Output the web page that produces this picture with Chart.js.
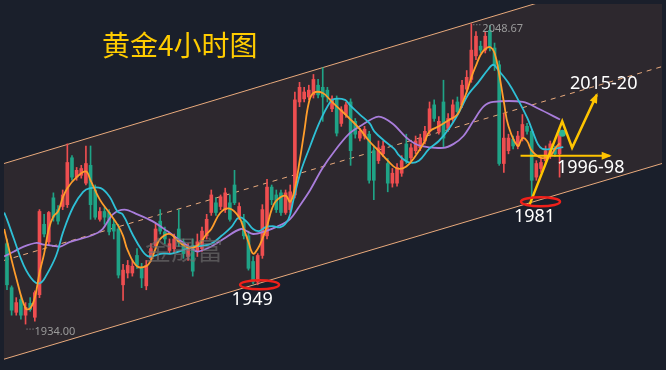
<!DOCTYPE html>
<html>
<head>
<meta charset="utf-8">
<script src="https://cdn.jsdelivr.net/npm/chart.js@4.4.1/dist/chart.umd.min.js"></script>
<style>
    html, body { margin: 0; padding: 0; background: #1a1f2b; }
    canvas { display: block; }
</style>
</head>
<body>
<canvas id="goldChart" width="666" height="370"></canvas>
<script>
// 4h candles (index 0 = leftmost bar)
const opens = [
    1964.7, 1947.9, 1938.5, 1943.4, 1937.4, 1941.9, 1936.6, 1945.2, 1972.1, 1965.4,
    1982.2, 1977.7, 1978.9, 1979.6, 1997.5, 1990.1, 1990.8, 1987.8, 1994.6, 1985.2,
    1974.0, 1977.0, 1976.6, 1972.1, 1970.3, 1949.0, 1953.5, 1953.5, 1960.2, 1955.3,
    1948.6, 1959.1, 1963.9, 1973.3, 1969.2, 1962.1, 1962.8, 1970.3, 1965.4, 1959.8,
    1963.9, 1961.7, 1962.8, 1967.7, 1976.6, 1980.3, 1978.9, 1977.7, 1980.3, 1987.1,
    1975.1, 1973.3, 1967.7, 1957.9, 1950.1, 1960.2, 1967.7, 1986.3, 1983.3, 1984.1,
    1976.6, 1977.7, 1983.3, 2018.8, 2020.0, 2020.7, 2021.5, 2025.2, 2024.4, 2023.3,
    2016.2, 2020.0, 2010.6, 2014.0, 2018.8, 2011.4, 2005.0, 2005.8, 2006.5, 2000.2,
    1996.4, 1999.0, 1995.3, 1987.8, 1987.8, 1991.6, 2002.8, 1997.5, 2000.2, 2001.3,
    2003.9, 2007.6, 2017.7, 2007.6, 2018.8, 2008.7, 2012.5, 2018.8, 2017.7, 2023.7,
    2027.4, 2036.4, 2040.1, 2038.6, 2046.1, 2039.4, 2033.0, 1995.3, 2000.2, 2004.6,
    2002.0, 2005.0, 2009.5, 2007.6, 1990.1, 1993.4, 1996.4, 1999.0, 2000.9, 1999.0
];
const highs = [
    1966.5, 1948.6, 1944.1, 1944.9, 1942.2, 1944.1, 1946.7, 1977.7, 1975.9, 1977.0,
    1984.1, 1979.2, 1985.2, 2002.8, 1998.3, 1993.8, 1994.6, 2002.0, 2002.0, 1987.1,
    1978.5, 1978.5, 1977.7, 1974.0, 1972.1, 1956.8, 1958.3, 1958.3, 1962.8, 1957.2,
    1958.3, 1964.7, 1972.1, 1977.7, 1971.0, 1966.5, 1968.4, 1977.7, 1966.5, 1964.7,
    1966.5, 1968.4, 1971.0, 1975.9, 1985.2, 1982.2, 1983.3, 1985.9, 1983.3, 1992.7,
    1980.3, 1975.9, 1969.5, 1959.8, 1960.9, 1979.6, 1989.3, 1987.1, 1985.2, 1985.2,
    1985.2, 1987.1, 2022.6, 2026.3, 2024.4, 2025.2, 2029.3, 2027.4, 2031.9, 2024.4,
    2021.1, 2021.1, 2017.0, 2018.8, 2020.0, 2012.5, 2008.7, 2009.5, 2007.6, 2002.0,
    2003.9, 2003.9, 1997.2, 1993.4, 1995.3, 1998.3, 2006.5, 2002.8, 2005.8, 2006.5,
    2009.5, 2018.8, 2019.6, 2013.2, 2027.1, 2014.4, 2019.6, 2020.7, 2027.1, 2030.8,
    2048.67, 2045.7, 2042.0, 2045.7, 2048.0, 2041.3, 2034.5, 2014.4, 2006.5, 2005.8,
    2007.6, 2014.0, 2010.6, 2008.4, 1996.4, 1997.2, 2002.0, 2003.9, 2002.0, 2008.4
];
const lows = [
    1947.1, 1937.4, 1937.4, 1935.9, 1934.0, 1938.9, 1935.1, 1944.1, 1967.3, 1964.3,
    1973.3, 1972.1, 1977.7, 1978.5, 1988.9, 1988.9, 1989.7, 1987.1, 1974.0, 1974.0,
    1973.3, 1972.1, 1968.0, 1966.5, 1951.6, 1943.0, 1951.6, 1952.3, 1955.3, 1947.9,
    1947.1, 1957.9, 1962.8, 1968.4, 1964.7, 1960.9, 1960.9, 1963.6, 1959.1, 1958.3,
    1952.3, 1959.8, 1961.7, 1966.5, 1975.5, 1975.5, 1977.7, 1976.6, 1973.3, 1979.6,
    1974.0, 1966.5, 1954.6, 1949.4, 1949.0, 1959.1, 1966.5, 1979.6, 1976.6, 1975.5,
    1975.9, 1976.6, 1982.2, 2017.0, 2018.8, 2019.6, 2020.3, 2020.3, 2011.4, 2018.8,
    2015.1, 2005.8, 2009.5, 2012.9, 1994.6, 2005.0, 2003.9, 2004.6, 1987.8, 1981.5,
    1995.3, 1997.9, 1984.5, 1986.3, 1986.7, 1990.4, 1995.3, 1996.4, 1999.0, 2000.2,
    2002.8, 2006.5, 2011.4, 2006.5, 2001.3, 2007.6, 2011.4, 2014.0, 2016.6, 2022.6,
    2026.3, 2034.9, 2037.5, 2037.5, 2038.3, 2030.8, 1994.6, 1991.9, 1999.0, 2000.9,
    2000.9, 2003.9, 2006.5, 1981.5, 1988.9, 1991.9, 1995.3, 1997.2, 1997.9, 1990.1
];
const closes = [
    1949.0, 1939.3, 1942.2, 1937.4, 1940.4, 1939.6, 1946.0, 1977.0, 1968.4, 1976.6,
    1974.8, 1973.3, 1983.3, 1995.7, 1990.1, 1992.7, 1993.4, 1995.3, 1979.6, 1974.8,
    1977.0, 1974.8, 1969.2, 1969.5, 1952.7, 1954.6, 1956.4, 1956.1, 1956.4, 1951.6,
    1956.4, 1962.8, 1970.3, 1969.5, 1966.5, 1964.7, 1966.5, 1965.4, 1960.9, 1962.8,
    1954.2, 1965.4, 1969.5, 1974.0, 1983.3, 1976.6, 1982.6, 1984.1, 1974.0, 1980.3,
    1978.9, 1967.7, 1955.3, 1950.1, 1960.2, 1977.7, 1986.3, 1981.5, 1977.7, 1976.6,
    1984.1, 1984.5, 2019.6, 2024.4, 2022.6, 2023.3, 2027.4, 2021.5, 2020.7, 2020.7,
    2020.0, 2006.9, 2015.8, 2017.7, 2000.2, 2006.5, 2007.6, 2008.4, 1988.9, 1988.9,
    2001.3, 2002.0, 1987.8, 1991.6, 1993.8, 1996.4, 1996.4, 2001.3, 2003.9, 2005.0,
    2007.6, 2016.2, 2012.5, 2011.4, 2005.0, 2012.5, 2017.7, 2015.1, 2025.2, 2028.2,
    2038.6, 2043.9, 2038.6, 2043.9, 2039.4, 2032.7, 1995.3, 2005.0, 2005.0, 2002.0,
    2005.8, 2010.2, 2007.6, 1988.9, 1995.3, 1995.7, 2000.2, 2002.8, 1999.0, 2006.5
];

// moving averages, sampled along the drawn curves (bar index, price)
const maFastX = [-0.6, 0, 2, 4, 5, 6, 7, 8, 9, 10, 11, 12, 13, 15, 17, 18, 20, 22, 24, 25,
    26, 28, 30, 31, 32, 33, 35, 37, 39, 41, 43, 44, 46, 48, 50, 51, 52, 53, 54, 55,
    56, 57, 58, 60, 61, 62, 63, 64, 65, 66, 68, 70, 72, 74, 76, 78, 80, 82, 84, 86,
    88, 90, 91, 93, 95, 97, 98, 99, 100, 101, 102, 103, 104, 105, 106, 107, 108, 110, 111, 112,
    113, 115, 117, 118, 119];
const maFastY = [1970.3, 1965.8, 1951.6, 1940.0, 1940.0, 1944.1, 1953.5, 1960.9, 1970.3, 1975.1, 1977.0, 1982.2, 1985.9, 1990.1, 1992.3, 1988.9, 1981.5, 1976.6, 1971.4, 1967.7,
    1962.1, 1956.1, 1956.1, 1958.3, 1962.8, 1966.5, 1968.4, 1965.4, 1963.2, 1963.9, 1968.4, 1970.3, 1976.6, 1978.1, 1974.8, 1970.3, 1965.4, 1960.9, 1962.8, 1966.5,
    1971.4, 1977.7, 1981.1, 1983.0, 1980.7, 1985.9, 1996.0, 2007.3, 2018.5, 2022.2, 2022.2, 2018.8, 2015.5, 2012.1, 2008.4, 2003.9, 2000.2, 1996.4, 1993.4, 1994.2,
    1998.3, 2003.9, 2007.6, 2009.5, 2011.7, 2014.0, 2018.1, 2022.6, 2028.2, 2032.7, 2036.8, 2039.0, 2039.8, 2037.5, 2029.3, 2018.8, 2009.5, 2002.0, 2005.0, 2003.9,
    2000.2, 1997.5, 1998.3, 2000.9, 2003.1];

const maMidX = [-0.6, 0, 1.5, 3.6, 5.7, 7.2, 8.5, 10.6, 12.1, 14.3, 16.4, 17.9, 20.2, 22.1, 23.8, 24.9, 27, 29.1, 30.6, 33.4,
    35.5, 37.7, 39.8, 41.9, 44, 46.2, 48.3, 50, 51.5, 53, 54.3, 55.7, 57.2, 58.9, 60.6, 61.7, 63.2, 65.3, 67.4, 69.6,
    70.6, 72.8, 73.8, 76, 78.1, 79.1, 81.3, 83.4, 84.5, 86.6, 88.7, 90.9, 93, 95.1, 97.2, 99.4, 101.5, 103.6, 104.7, 105.7,
    107.9, 110, 112.1, 113.2, 114.3, 115.3, 117.4, 119.8];
const maMidY = [1976.6, 1974.0, 1966.5, 1956.4, 1950.5, 1949.7, 1952.7, 1960.2, 1969.2, 1978.9, 1984.5, 1985.9, 1985.9, 1982.6, 1977.0, 1975.9, 1968.4, 1962.1, 1959.8, 1960.9,
    1960.9, 1962.1, 1963.6, 1963.9, 1964.7, 1967.7, 1971.0, 1974.8, 1973.3, 1970.3, 1969.5, 1971.0, 1971.4, 1971.0, 1974.0, 1981.5, 1991.9, 2002.0, 2011.4, 2018.8,
    2020.0, 2019.6, 2017.7, 2014.0, 2010.6, 2007.6, 2003.9, 2000.9, 1998.3, 1995.7, 1996.4, 2000.9, 2003.9, 2008.4, 2014.4, 2021.8, 2026.3, 2031.2, 2033.0, 2031.2,
    2026.3, 2019.9, 2012.5, 2007.6, 2002.8, 2000.9, 2000.9, 2001.6];

const maSlowX = [-0.6, 1.5, 3.6, 6.4, 7.9, 10, 11.5, 13.6, 18.5, 20.6, 22.8, 25.3, 28.1, 31.3, 34.5, 37.7, 39.8, 41.1, 44, 46.6,
    50.4, 53, 55.7, 57.9, 60.9, 63.2, 65.3, 67.9, 70.6, 73.6, 76, 80, 83, 86.4, 89.1, 94, 96.2, 98.3, 100.4, 102.6,
    104.7, 111.1, 114.5, 119.1];
const maSlowY = [1959.8, 1961.7, 1963.6, 1965.0, 1964.3, 1963.9, 1963.6, 1965.4, 1968.0, 1970.3, 1975.9, 1977.7, 1975.9, 1973.3, 1969.5, 1965.4, 1962.8, 1961.7, 1963.6, 1966.5,
    1970.3, 1968.4, 1969.5, 1971.0, 1974.0, 1979.6, 1985.2, 1993.4, 2000.2, 2006.5, 2009.5, 2013.2, 2010.6, 2004.6, 2002.0, 2001.3, 2002.8, 2005.8, 2011.4, 2017.0,
    2018.8, 2018.8, 2016.2, 2012.1];

// channel (ends at left and right edge of the picture)
const chanX = [-0.64, 141.06];
const chanUpper = [1995.3, 2070.9];
const chanMid = [1958.3, 2032.3];
const chanLower = [1920.6, 1995.3];

// hand-drawn forecast arrows
const pathX = [112.55, 119.57, 121.7, 127.0];
const pathY = [1979.6, 2011.4, 2001.3, 2021.5];
const flatX = [110.6, 129.8];
const flatY = [1998.3, 1998.3];

const lastX = [119.6];
const lastY = [2006.9];

// circled lows and notes
const ringX = [54.4, 114.9];
const ringY = [1949.0, 1980.7];
const noteText = ['1949', '1981', '1996-98', '2015-20'];
const noteX = [52.8, 113.6, 125.7, 128.5];
const noteY = [1943.4, 1975.1, 1993.8, 2025.6];

const upColor = '#ee4e50';
const downColor = '#1fa386';
const candleColors = opens.map((o, i) => closes[i] >= o ? upColor : downColor);
const pairs = (xs, ys) => xs.map((x, i) => ({ x: x, y: ys[i] }));

const overlay = {
    id: 'overlay',
    afterDatasetsDraw(chart) {
        const ctx = chart.ctx;
        const xs = chart.scales.x;
        const ys = chart.scales.y;
        ctx.save();

        // arrow heads on the yellow lines
        chart.data.datasets.forEach((ds, di) => {
            if (!ds.arrow) return;
            const pts = chart.getDatasetMeta(di).data;
            const a = pts[pts.length - 2];
            const b = pts[pts.length - 1];
            const ang = Math.atan2(b.y - a.y, b.x - a.x);
            ctx.save();
            ctx.translate(b.x, b.y);
            ctx.rotate(ang);
            ctx.fillStyle = '#ffc400';
            ctx.beginPath();
            ctx.moveTo(2, 0);
            ctx.lineTo(-8, -4);
            ctx.lineTo(-8, 4);
            ctx.closePath();
            ctx.fill();
            ctx.restore();
        });

        // red rings
        ctx.strokeStyle = '#f0201a';
        ctx.lineWidth = 2.5;
        ringX.forEach((v, i) => {
            ctx.beginPath();
            ctx.ellipse(xs.getPixelForValue(v), ys.getPixelForValue(ringY[i]), 19.5, 4.5, 0, 0, Math.PI * 2);
            ctx.stroke();
        });

        // notes
        ctx.fillStyle = '#ffffff';
        ctx.font = '18px "Noto Sans", sans-serif';
        ctx.textAlign = 'center';
        ctx.textBaseline = 'middle';
        noteText.forEach((t, i) => {
            ctx.fillText(t, xs.getPixelForValue(noteX[i]), ys.getPixelForValue(noteY[i]));
        });

        // high / low marks
        const hi = Math.max(...highs), lo = Math.min(...lows);
        const hx = xs.getPixelForValue(highs.indexOf(hi)), hy = ys.getPixelForValue(hi);
        const lx = xs.getPixelForValue(lows.indexOf(lo)), ly = ys.getPixelForValue(lo);
        ctx.strokeStyle = '#9a9a9a';
        ctx.lineWidth = 1;
        ctx.setLineDash([1, 2]);
        ctx.beginPath();
        ctx.moveTo(hx + 2, hy + 1); ctx.lineTo(hx + 9, hy + 1);
        ctx.moveTo(lx + 1, ly + 5); ctx.lineTo(lx + 8, ly + 5);
        ctx.stroke();
        ctx.setLineDash([]);
        ctx.fillStyle = '#9a9a9a';
        ctx.font = '11px "Noto Sans", sans-serif';
        ctx.textAlign = 'left';
        ctx.fillText(hi.toFixed(2), hx + 11, hy + 5);
        ctx.fillText(lo.toFixed(2), lx + 9, ly + 8);

        // watermark
        ctx.fillStyle = 'rgba(115,115,115,0.6)';
        ctx.font = '26px "Noto Sans CJK SC", sans-serif';
        ctx.fillText('金晟富', 145, 250);

        // title
        ctx.fillStyle = '#ffcc00';
        ctx.font = '28px "Noto Sans CJK SC", sans-serif';
        ctx.fillText('黄金4小时图', 102, 45);

        ctx.restore();
    }
};

new Chart(document.getElementById('goldChart'), {
    type: 'bar',
    data: {
        datasets: [
            { type: 'line', label: 'MA fast', data: pairs(maFastX, maFastY), borderColor: '#ff9d2b', borderWidth: 1.8, pointRadius: 0, tension: 0.4, order: 1 },
            { type: 'line', label: 'MA mid', data: pairs(maMidX, maMidY), borderColor: '#2ec0d6', borderWidth: 1.8, pointRadius: 0, tension: 0.4, order: 1 },
            { type: 'line', label: 'MA slow', data: pairs(maSlowX, maSlowY), borderColor: '#a97ddb', borderWidth: 1.8, pointRadius: 0, tension: 0.3, order: 1 },
            { label: 'body', data: opens.map((o, i) => ({ x: i, y: [o, closes[i]] })), backgroundColor: candleColors, barThickness: 3, minBarLength: 1, grouped: false, order: 3 },
            { label: 'wick', data: lows.map((l, i) => ({ x: i, y: [l, highs[i]] })), backgroundColor: candleColors, barThickness: 1, grouped: false, order: 4 },
            { type: 'line', label: 'upper', data: pairs(chanX, chanUpper), borderColor: '#e9aa7c', borderWidth: 1, pointRadius: 0, fill: false, order: 10 },
            { type: 'line', label: 'lower', data: pairs(chanX, chanLower), borderColor: '#e9aa7c', borderWidth: 1, pointRadius: 0, fill: '-1', backgroundColor: '#2d282e', order: 10 },
            { type: 'line', label: 'mid', data: pairs(chanX, chanMid), borderColor: '#e9aa7c', borderWidth: 1, borderDash: [5, 5], pointRadius: 0, order: 9 },
            { type: 'line', label: 'path', data: pairs(pathX, pathY), borderColor: '#ffc400', borderWidth: 2.5, pointRadius: 0, tension: 0, arrow: true, order: 0 },
            { type: 'line', label: 'flat', data: pairs(flatX, flatY), borderColor: '#ffc400', borderWidth: 2, pointRadius: 0, tension: 0, arrow: true, order: 0 },
            { type: 'line', label: 'last', data: pairs(lastX, lastY), showLine: false, pointRadius: 3.5, pointBackgroundColor: '#2fb592', pointBorderWidth: 0, order: 0 }
        ]
    },
    options: {
        responsive: false,
        animation: false,
        layout: { padding: 0 },
        scales: {
            x: { type: 'linear', display: false, offset: false, min: -0.64, max: 141.06 },
            y: { type: 'linear', display: false, min: 1918.0, max: 2056.2 }
        },
        plugins: {
            legend: { display: false },
            tooltip: { enabled: false },
            filler: { drawTime: 'beforeDatasetsDraw' }
        }
    },
    plugins: [overlay]
});
</script>
</body>
</html>
